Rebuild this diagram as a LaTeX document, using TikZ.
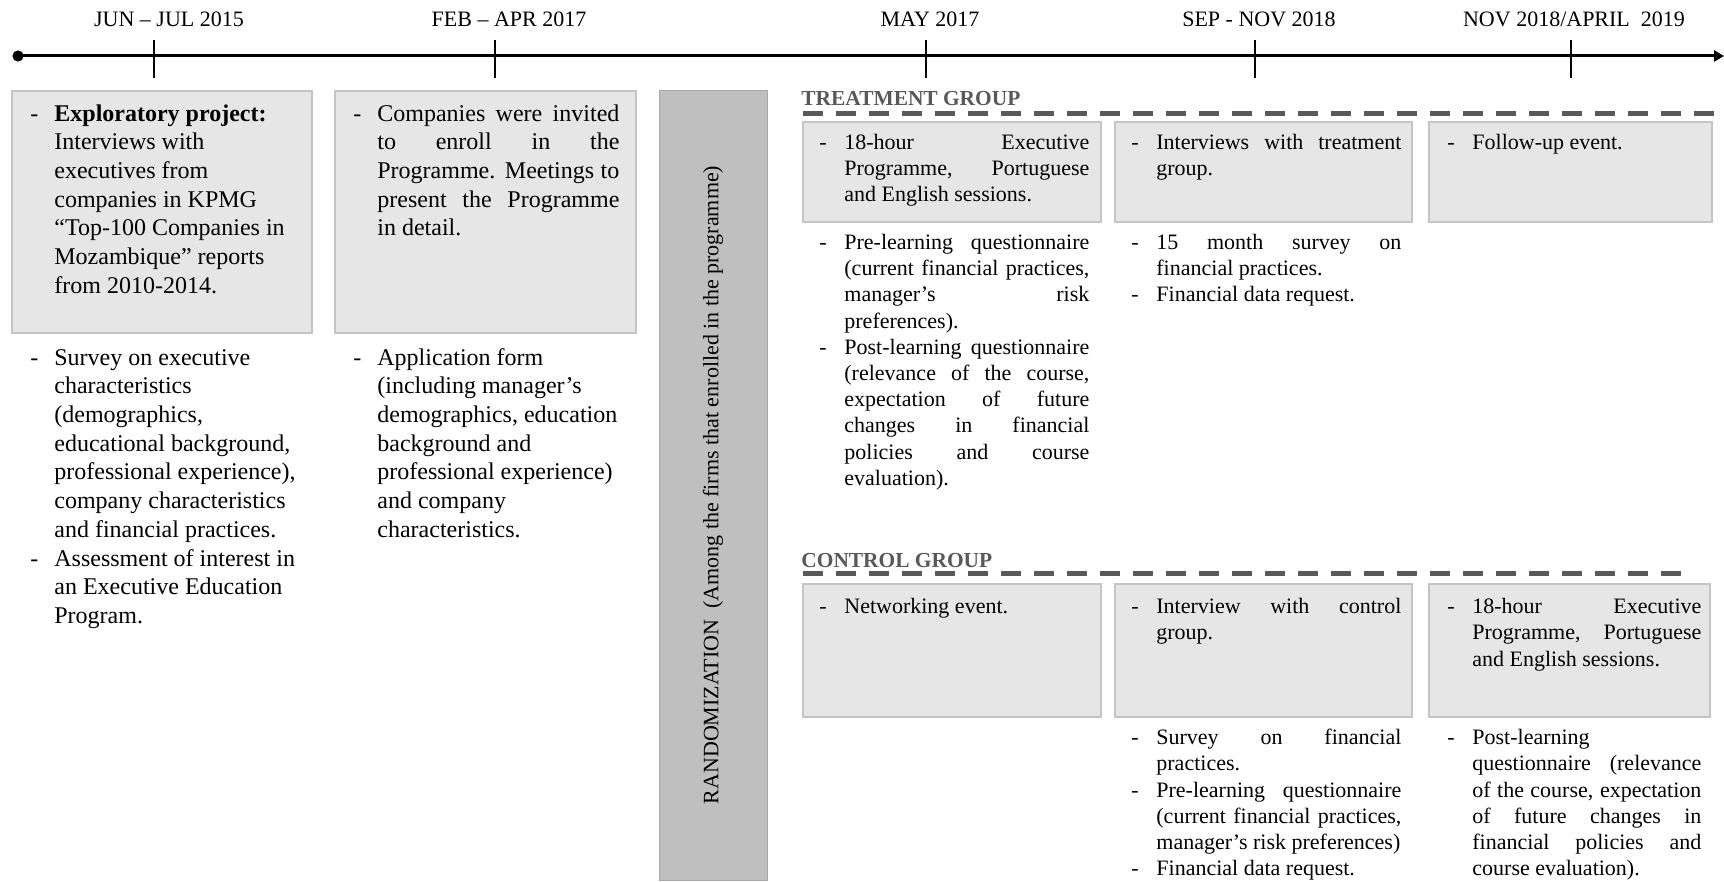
\documentclass[tikz,border=0pt]{standalone}
\usepackage{fontspec}
\setmainfont{Liberation Serif}
\usetikzlibrary{arrows.meta}
\definecolor{boxfill}{HTML}{E6E6E6}
\definecolor{boxline}{HTML}{C4C4C4}
\definecolor{randfill}{HTML}{BFBFBF}
\definecolor{randline}{HTML}{A6A6A6}
\definecolor{grouptxt}{HTML}{595959}
\tolerance=10000
\hbadness=10000
\hyphenpenalty=10000
\exhyphenpenalty=10000
\newlength\dind
\newcommand\ditem[1]{\par\noindent\hangindent=\dind\hangafter=1\strut\makebox[\dind][l]{-}#1\par}
\begin{document}
\begin{tikzpicture}[x=0.5pt,y=-0.5pt,
  panel/.style={draw=boxline,fill=boxfill,line width=0.7pt},
  randbar/.style={draw=randline,fill=randfill,line width=0.5pt},
  lefttxt/.style={anchor=north west,inner sep=0pt,align=justify,
    font=\fontsize{12}{14.35}\selectfont\setlength\dind{12pt}},
  righttxt/.style={anchor=north west,inner sep=0pt,align=justify,
    font=\fontsize{11}{13.1}\selectfont\setlength\dind{12.5pt}},
  datelbl/.style={anchor=base,inner sep=0pt,font=\fontsize{11}{13}\selectfont},
  grouplbl/.style={anchor=base west,inner sep=0pt,font=\fontsize{10.7}{13}\selectfont\bfseries,text=grouptxt},
  groupline/.style={draw=grouptxt,line width=2.5pt,dash pattern=on 10pt off 6.5pt},
  tickline/.style={line width=1.3pt},
]
\useasboundingbox (0,0) rectangle (1724,882);
% timeline
\coordinate (tstart) at (18,56);
\coordinate (tend) at (1724,56);
\draw[line width=1.5pt,-{Triangle[length=5pt,width=5.5pt]}] (tstart) -- (tend);
\fill (tstart) circle[radius=2.8pt];
\foreach \n/\x in {a/154,b/495,c/926,d/1255,e/1571}{
  \coordinate (tk\n top) at (\x,40);
  \coordinate (tk\n bot) at (\x,78);
  \draw[tickline] (tk\n top) -- (tk\n bot);
}
\node[datelbl] (d1) at (169,27) {JUN – JUL 2015};
\node[datelbl] (d2) at (509,27) {FEB – APR 2017};
\node[datelbl] (d3) at (930,27) {MAY 2017};
\node[datelbl] (d4) at (1259,27) {SEP - NOV 2018};
\node[datelbl] (d5) at (1574,27) {NOV 2018/APRIL\ \ 2019};
% left panels
\path[panel] (12,91) rectangle (312,333);
\path[panel] (335,91) rectangle (636,333);
\path[randbar] (659,91) rectangle (767,880);
\node[rotate=90,inner sep=0pt,font=\fontsize{11}{13}\selectfont] (rand) at (713,485)
  {RANDOMIZATION\ \ (Among the firms that enrolled in the programme)};
\node[lefttxt,text width=136pt] (b1) at (30,92) {%
\ditem{\textbf{Exploratory project:}\\ Interviews with\\ executives from\\ companies in KPMG\\ “Top-100 Companies in\\ Mozambique” reports\\ from 2010-2014.}};
\node[lefttxt,text width=133pt] (b2) at (353,92) {%
\ditem{Companies were invited\linebreak to enroll in the\linebreak Programme. Meetings to\linebreak present the Programme\linebreak in detail.}};
\node[lefttxt,text width=136pt] (l1) at (30,336) {%
\ditem{Survey on executive\\ characteristics\\ (demographics,\\ educational background,\\ professional experience),\\ company characteristics\\ and financial practices.}
\ditem{Assessment of interest in\\ an Executive Education\\ Program.}};
\node[lefttxt,text width=136pt] (l2) at (353,336) {%
\ditem{Application form\\ (including manager’s\\ demographics, education\\ background and\\ professional experience)\\ and company\\ characteristics.}};
% treatment group
\node[grouplbl] (tg) at (801,106) {TREATMENT GROUP};
\coordinate (tgs) at (803,114);
\coordinate (tge) at (1716,114);
\draw[groupline] (tgs) -- (tge);
\path[panel] (803,122) rectangle (1101,222);
\path[panel] (1115,122) rectangle (1412,222);
\path[panel] (1429,122) rectangle (1712,222);
\node[righttxt,text width=135pt] (t1) at (819,123) {%
\ditem{18-hour Executive\linebreak Programme, Portuguese\linebreak and English sessions.}};
\node[righttxt,text width=135pt] (t2) at (1131,123) {%
\ditem{Interviews with treatment\linebreak group.}};
\node[righttxt,text width=127pt] (t3) at (1447,123) {%
\ditem{Follow-up event.}};
\node[righttxt,text width=135pt] (t1b) at (819,223) {%
\ditem{Pre-learning questionnaire\linebreak (current financial practices,\linebreak manager’s risk\linebreak preferences).}
\ditem{Post-learning questionnaire\linebreak (relevance of the course,\linebreak expectation of future\linebreak changes in financial\linebreak policies and course\linebreak evaluation).}};
\node[righttxt,text width=135pt] (t2b) at (1131,223) {%
\ditem{15 month survey on\linebreak financial practices.}
\ditem{Financial data request.}};
% control group
\node[grouplbl] (cg) at (801,567) {CONTROL GROUP};
\coordinate (cgs) at (803,573);
\coordinate (cge) at (1693,573);
\draw[groupline] (cgs) -- (cge);
\path[panel] (803,584) rectangle (1101,717);
\path[panel] (1115,584) rectangle (1412,717);
\path[panel] (1429,584) rectangle (1710,717);
\node[righttxt,text width=135pt] (c1) at (819,587) {%
\ditem{Networking event.}};
\node[righttxt,text width=135pt] (c2) at (1131,587) {%
\ditem{Interview with control\linebreak group.}};
\node[righttxt,text width=127pt] (c3) at (1447,587) {%
\ditem{18-hour Executive\linebreak Programme, Portuguese\linebreak and English sessions.}};
\node[righttxt,text width=135pt] (c2b) at (1131,718) {%
\ditem{Survey on financial\linebreak practices.}
\ditem{Pre-learning questionnaire\linebreak (current financial practices,\linebreak manager’s risk preferences)}
\ditem{Financial data request.}};
\node[righttxt,text width=127pt] (c3b) at (1447,718) {%
\ditem{Post-learning\\ questionnaire (relevance\linebreak of the course, expectation\linebreak of future changes in\linebreak financial policies and\linebreak course evaluation).}};
\end{tikzpicture}
\end{document}
